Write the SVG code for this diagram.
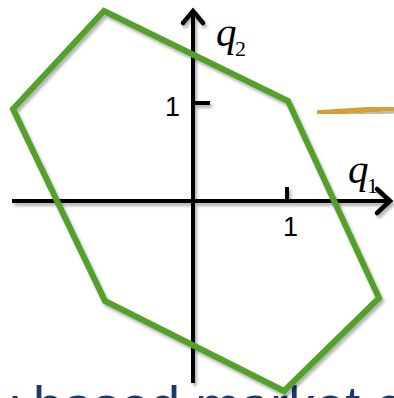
<svg xmlns="http://www.w3.org/2000/svg" width="394" height="398" viewBox="0 0 394 398">
<defs>
<style>
.ax{stroke:#000;stroke-width:4;fill:none;stroke-linecap:butt}
.ah{stroke:#000;stroke-width:4.5;fill:none;stroke-linecap:round;stroke-linejoin:miter}
.hex{stroke:#53A02B;stroke-width:6;fill:none;stroke-linejoin:miter}
.q{font-family:"Liberation Serif",serif;font-style:italic;font-size:41px;fill:#000}
.sub{font-family:"Liberation Serif",serif;font-size:22px;fill:#000}
.tick{font-family:"Liberation Sans",Arial,sans-serif;font-size:27px;fill:#000}
.cap{font-family:"Liberation Sans",Arial,sans-serif;font-size:54px;fill:#1B3A6B}
</style>
<filter id="sh" x="-10%" y="-10%" width="130%" height="130%">
<feDropShadow dx="2" dy="3" stdDeviation="1.8" flood-color="#000" flood-opacity="0.3"/>
</filter>
</defs>
<rect width="394" height="398" fill="#fff"/>
<text class="cap" x="-9" y="424">y based market c</text>
<g id="axes" filter="url(#sh)">
<line class="ax" x1="12" y1="201" x2="389" y2="201"/>
<line class="ax" x1="193" y1="383" x2="193" y2="12"/>
<polyline class="ah" points="377,189 390,201 377,213"/>
<polyline class="ah" points="183,23 193,11 203,23"/>
<line class="ax" x1="193" y1="103" x2="210" y2="103"/>
<line class="ax" x1="287" y1="201" x2="287" y2="187"/>
</g>
<g id="labels">
<text class="tick" x="165" y="116">1</text>
<text class="tick" x="283" y="236">1</text>
<text class="q" x="216" y="46">q</text><text class="sub" x="235" y="56">2</text>
<text class="q" x="348" y="183">q</text><text class="sub" x="367" y="193">1</text>
</g>
<g id="hexagon" filter="url(#sh)">
<polygon class="hex" points="104,11 288,101 379,298 284,391 105,301 13,109"/>
</g>
<g id="connectors" filter="url(#sh)">
<line x1="317" y1="113" x2="394" y2="108" stroke="#D49F35" stroke-width="5.5"/>
</g>
</svg>
